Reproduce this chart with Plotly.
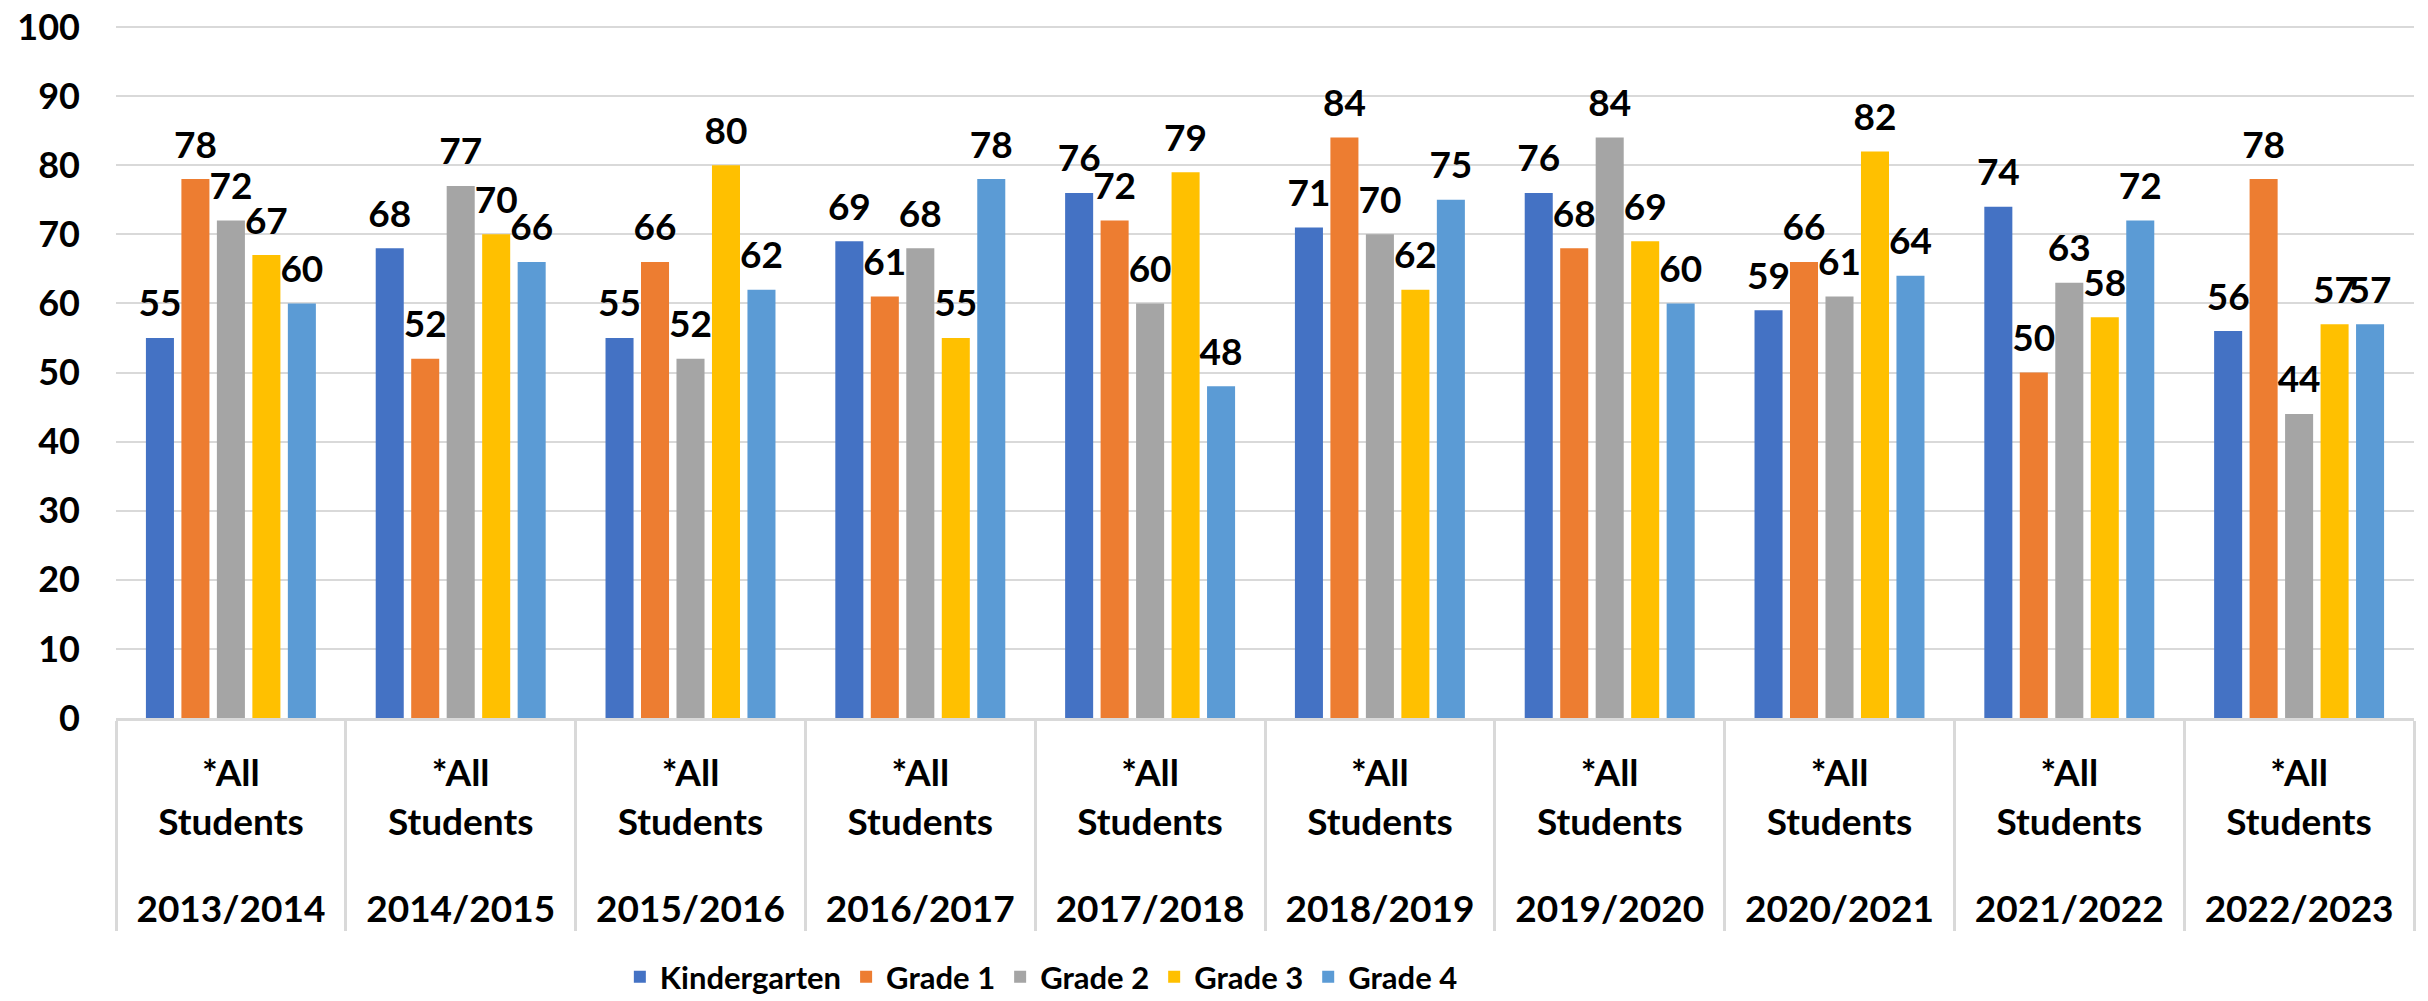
import plotly.graph_objects as go

years = ["2013/2014", "2014/2015", "2015/2016", "2016/2017", "2017/2018",
         "2018/2019", "2019/2020", "2020/2021", "2021/2022", "2022/2023"]
group_label = "*All<br>Students<br><span style='font-size:100px'>&nbsp;</span>"

series_names = ["Kindergarten", "Grade 1", "Grade 2", "Grade 3", "Grade 4"]
kindergarten = [55, 68, 55, 69, 76, 71, 76, 59, 74, 56]
grade1 = [78, 52, 66, 61, 72, 84, 68, 66, 50, 78]
grade2 = [72, 77, 52, 68, 60, 70, 84, 61, 63, 44]
grade3 = [67, 70, 80, 55, 79, 62, 69, 82, 58, 57]
grade4 = [60, 66, 62, 78, 48, 75, 60, 64, 72, 57]
colors = ["#4472C4", "#ED7D31", "#A5A5A5", "#FFC000", "#5B9BD5"]

y_ticks = list(range(0, 101, 10))

all_series = [kindergarten, grade1, grade2, grade3, grade4]
x = [years, [group_label] * len(years)]

FONT = "Lato"
BARGAP = 0.228

fig = go.Figure()
for i, (name, vals) in enumerate(zip(series_names, all_series)):
    fig.add_trace(go.Bar(
        x=x, y=vals, name=name, marker=dict(color=colors[i], line=dict(width=0)),
        hoverinfo="skip",
    ))
for i, (name, vals) in enumerate(zip(series_names, all_series)):
    fig.add_trace(go.Scatter(
        x=x, y=vals, mode="markers+text", text=[str(v) for v in vals],
        textposition="top center",
        textfont=dict(family=FONT, size=37, color="black", weight="bold"),
        marker=dict(size=18, color="rgba(0,0,0,0)"),
        showlegend=False, cliponaxis=False, hoverinfo="skip",
        offsetgroup=f"g{i}", alignmentgroup="a",
    ))

# page body has an 8px default margin: figure is sized/offset to compensate
fig.update_layout(
    width=2420, height=993,
    margin=dict(l=108, r=14, t=17, b=283, autoexpand=False),
    paper_bgcolor="white", plot_bgcolor="white",
    barmode="group", bargap=BARGAP, bargroupgap=0.21,
    scattermode="group", scattergap=BARGAP,
    font=dict(family=FONT, color="black"),
    legend=dict(orientation="h", xref="container", yref="container",
                x=0.427, xanchor="center", y=0.024, yanchor="middle",
                font=dict(family=FONT, size=31, color="black", weight="bold"),
                traceorder="normal"),
)
fig.update_yaxes(
    range=[0, 100.3], tickvals=y_ticks, showgrid=True, gridcolor="#d9d9d9", gridwidth=2,
    zeroline=False, showline=False, ticklabelstandoff=35, automargin=False,
    ticklabeloverflow="allow",
    tickfont=dict(family=FONT, size=36, color="black", weight="bold"),
)
fig.update_xaxes(
    type="multicategory", showline=True, linecolor="#d9d9d9", linewidth=3,
    showdividers=True, dividercolor="#d9d9d9", dividerwidth=3, automargin=False,
    ticklabeloverflow="allow",
    tickfont=dict(family=FONT, size=37, color="black", weight="bold"),
    ticks="", ticklabelstandoff=21,
)

fig.write_html("out.html")
